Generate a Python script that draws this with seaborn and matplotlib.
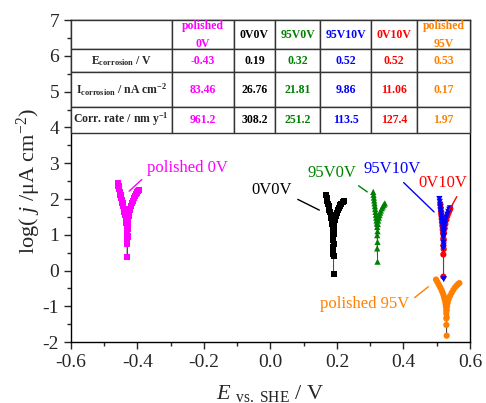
import numpy as np
import pandas as pd
import matplotlib
matplotlib.use("Agg")
import matplotlib.pyplot as plt
from matplotlib.ticker import MultipleLocator
import seaborn as sns

# --- Tafel curves (E vs. SHE in V, log j in uA cm-2) ---
samples = ["polished 0V", "0V0V", "95V0V", "0V10V", "95V10V", "polished 95V"]
colors = ["#ff00ff", "#000000", "#008000", "#ff0000", "#0000ff", "#ff8000"]
markers = ["s", "s", "^", "o", "v", "o"]

e_pol0 = [-0.459, -0.457, -0.455, -0.453, -0.451, -0.449, -0.447, -0.445, -0.443, -0.441,
          -0.439, -0.437, -0.435, -0.434, -0.433, -0.432, -0.431, -0.431, -0.431, -0.431,
          -0.431, -0.430, -0.430, -0.429, -0.428, -0.427, -0.425, -0.423, -0.420, -0.417,
          -0.414, -0.411, -0.408, -0.405, -0.402, -0.399, -0.396]
j_pol0 = [2.44, 2.36, 2.28, 2.20, 2.12, 2.04, 1.96, 1.88, 1.80, 1.72,
          1.64, 1.56, 1.48, 1.40, 1.32, 1.24, 1.18, 1.10, 0.94, 0.76,
          0.37, 0.95, 1.16, 1.30, 1.42, 1.52, 1.62, 1.71, 1.80, 1.88,
          1.95, 2.02, 2.08, 2.13, 2.18, 2.22, 2.26]

e_0v0v = [0.167, 0.169, 0.171, 0.173, 0.175, 0.177, 0.179, 0.181, 0.183, 0.185,
          0.186, 0.187, 0.188, 0.189, 0.189, 0.189, 0.189, 0.189, 0.190, 0.190,
          0.190, 0.190, 0.191, 0.192, 0.194, 0.196, 0.199, 0.202, 0.205, 0.209,
          0.213, 0.217, 0.222]
j_0v0v = [2.11, 2.03, 1.95, 1.87, 1.79, 1.71, 1.63, 1.55, 1.47, 1.39,
          1.31, 1.23, 1.15, 1.05, 0.95, 0.85, 0.66, 0.48, -0.10, 0.40,
          0.75, 1.02, 1.18, 1.30, 1.42, 1.52, 1.61, 1.69, 1.76, 1.82,
          1.87, 1.91, 1.95]

e_95v0v = [0.309, 0.310, 0.311, 0.312, 0.313, 0.314, 0.315, 0.316, 0.317, 0.318,
           0.319, 0.320, 0.321, 0.321, 0.321, 0.322, 0.322, 0.322, 0.323, 0.324,
           0.326, 0.328, 0.330, 0.332, 0.335, 0.338, 0.341, 0.344]
j_95v0v = [2.20, 2.12, 2.04, 1.96, 1.88, 1.80, 1.72, 1.64, 1.56, 1.48,
           1.40, 1.32, 1.22, 0.99, 0.62, 0.25, 0.80, 1.10, 1.30, 1.40,
           1.48, 1.55, 1.62, 1.68, 1.74, 1.79, 1.84, 1.88]

e_0v10v = [0.511, 0.512, 0.513, 0.514, 0.515, 0.516, 0.517, 0.518, 0.519, 0.520,
           0.520, 0.520, 0.520, 0.521, 0.521, 0.522, 0.524, 0.526, 0.529, 0.532,
           0.535, 0.538, 0.541]
j_0v10v = [1.85, 1.75, 1.65, 1.55, 1.45, 1.35, 1.25, 1.15, 1.05, 0.90,
           0.70, 0.45, -0.17, 0.60, 0.85, 1.05, 1.18, 1.30, 1.42, 1.52,
           1.60, 1.67, 1.73]

e_95v10v = [0.508, 0.509, 0.510, 0.511, 0.512, 0.513, 0.514, 0.515, 0.516, 0.517,
            0.518, 0.519, 0.520, 0.520, 0.520, 0.520, 0.521, 0.521, 0.521, 0.522,
            0.523, 0.525, 0.527, 0.529, 0.532, 0.535, 0.538, 0.540]
j_95v10v = [2.00, 1.92, 1.84, 1.76, 1.68, 1.60, 1.52, 1.44, 1.36, 1.28,
            1.20, 1.12, 1.04, 0.92, 0.78, 0.62, -0.24, 0.70, 0.96, 1.10,
            1.20, 1.30, 1.40, 1.48, 1.56, 1.64, 1.70, 1.74]

e_pol95 = [0.498, 0.502, 0.506, 0.510, 0.514, 0.517, 0.520, 0.522, 0.524, 0.526,
           0.527, 0.528, 0.529, 0.529, 0.529, 0.529, 0.530, 0.530, 0.530, 0.531,
           0.533, 0.536, 0.540, 0.545, 0.550, 0.555, 0.560, 0.564, 0.568]
j_pol95 = [-0.25, -0.32, -0.39, -0.46, -0.53, -0.60, -0.67, -0.74, -0.81, -0.88,
           -0.95, -1.02, -1.12, -1.20, -1.34, -1.52, -1.82, -1.30, -1.10, -1.00,
           -0.90, -0.80, -0.71, -0.62, -0.54, -0.47, -0.42, -0.38, -0.35]

curves_e = [e_pol0, e_0v0v, e_95v0v, e_0v10v, e_95v10v, e_pol95]
curves_j = [j_pol0, j_0v0v, j_95v0v, j_0v10v, j_95v10v, j_pol95]

# --- inset table values ---
table_cols = ["polished\n0V", "0V0V", "95V0V", "95V10V", "0V10V", "polished\n95V"]
table_colors = ["#ff00ff", "#000000", "#008000", "#0000ff", "#ff0000", "#ff8000"]
e_corr = [-0.43, 0.19, 0.32, 0.52, 0.52, 0.53]
i_corr = [83.46, 26.76, 21.81, 9.86, 11.06, 0.17]
corr_rate = [961.2, 308.2, 251.2, 113.5, 127.4, 1.97]

# --- curve labels: (text, colour, text pos, leader end, relpos) ---
labels = [
    ("polished 0V", "#ff00ff", (-0.371, 2.86), (-0.425, 2.22), (0.0, 0.1)),
    ("0V0V", "#000000", (-0.057, 2.25), (0.147, 1.69), (1.0, 0.1)),
    ("95V0V", "#008000", (0.112, 2.73), (0.291, 2.20), (0.9, 0.0)),
    ("95V10V", "#0000ff", (0.281, 2.83), (0.492, 1.64), (0.6, 0.0)),
    ("0V10V", "#ff0000", (0.445, 2.45), (0.538, 1.69), (0.85, 0.0)),
    ("polished 95V", "#ff8000", (0.149, -0.92), (0.475, -0.45), (1.0, 0.6)),
]

df = pd.concat([
    pd.DataFrame({"E": e, "logj": j, "sample": s})
    for s, e, j in zip(samples, curves_e, curves_j)
], ignore_index=True)

sns.set_theme(style="ticks")
plt.rcParams["font.family"] = ["Liberation Serif", "DejaVu Serif"]
plt.rcParams["axes.unicode_minus"] = False
plt.rcParams["mathtext.fontset"] = "custom"
plt.rcParams["mathtext.rm"] = "Liberation Serif"
plt.rcParams["mathtext.it"] = "Liberation Serif:italic"
plt.rcParams["mathtext.bf"] = "Liberation Serif:bold"

fig = plt.figure(figsize=(4.86, 4.03), dpi=100)
ax = fig.add_axes([0.146, 0.151, 0.821, 0.799])

# thin connecting line, then coloured markers on top
sns.lineplot(data=df, x="E", y="logj", units="sample", estimator=None, sort=False,
             color="0.3", lw=0.6, ax=ax, zorder=2)
sns.scatterplot(data=df, x="E", y="logj", hue="sample", style="sample",
                palette=dict(zip(samples, colors)), markers=dict(zip(samples, markers)),
                s=20, linewidth=0, legend=False, ax=ax, zorder=3)

for text, c, pos, end, rel in labels:
    ax.annotate(text, xy=end, xytext=pos, ha="left", va="center", color=c, fontsize=12,
                arrowprops=dict(arrowstyle="-", color=c, lw=1.0, relpos=rel,
                                shrinkA=2, shrinkB=0))

# table in the top part of the axes
rows = [[""] + table_cols,
        [r"E$_{\mathbf{corrosion}}$ / V"] + [f"{v:.2f}" for v in e_corr],
        [r"I$_{\mathbf{corrosion}}$ / nA cm$^{\mathbf{-2}}$"] + [f"{v:.2f}" for v in i_corr],
        [r"Corr. rate / nm y$^{\mathbf{-1}}$"] + [f"{v:g}" for v in corr_rate]]
col_w = np.array([101, 62, 42, 45, 51, 46, 53]) / 400
row_h = [29, 23.3, 34.3, 25.7]
tab = ax.table(cellText=rows, colWidths=col_w, cellLoc="center",
               bbox=[0, 0.651, 1, 0.349], zorder=4)
tab.auto_set_font_size(False)
for (r, c), cell in tab.get_celld().items():
    cell.set_height(row_h[r] / 100)
    cell.set_edgecolor("#333333")
    cell.set_linewidth(1.0)
    cell.set_facecolor("white")
    txt = cell.get_text()
    txt.set_fontsize(8.5)
    txt.set_fontweight("bold")
    txt.set_linespacing(1.7)
    if c > 0:
        txt.set_color(table_colors[c - 1])

ax.set_xlim(-0.6, 0.6)
ax.set_ylim(-2, 7)
ax.xaxis.set_major_locator(MultipleLocator(0.2))
ax.xaxis.set_minor_locator(MultipleLocator(0.1))
ax.yaxis.set_major_locator(MultipleLocator(1))
ax.yaxis.set_minor_locator(MultipleLocator(0.5))
ax.set_xticks(np.arange(-0.6, 0.61, 0.2))
ax.set_xticklabels([f"{v:.1f}" for v in np.arange(-0.6, 0.61, 0.2)])
ax.tick_params(which="major", direction="out", length=5, width=1, labelsize=14,
               top=False, right=False)
ax.tick_params(which="minor", direction="out", length=3, width=1, top=False, right=False)
for sp in ax.spines.values():
    sp.set_visible(True)
    sp.set_color("black")
    sp.set_linewidth(1.0)

ax.set_xlabel(r"$E$ $_{\mathregular{vs.\ SHE}}$ / V", fontsize=16, labelpad=9)
ax.set_ylabel(r"log( $j$ /μA cm$^{\mathregular{-2}}$)", fontsize=16, labelpad=0)

fig.savefig("out.png", dpi=100)
